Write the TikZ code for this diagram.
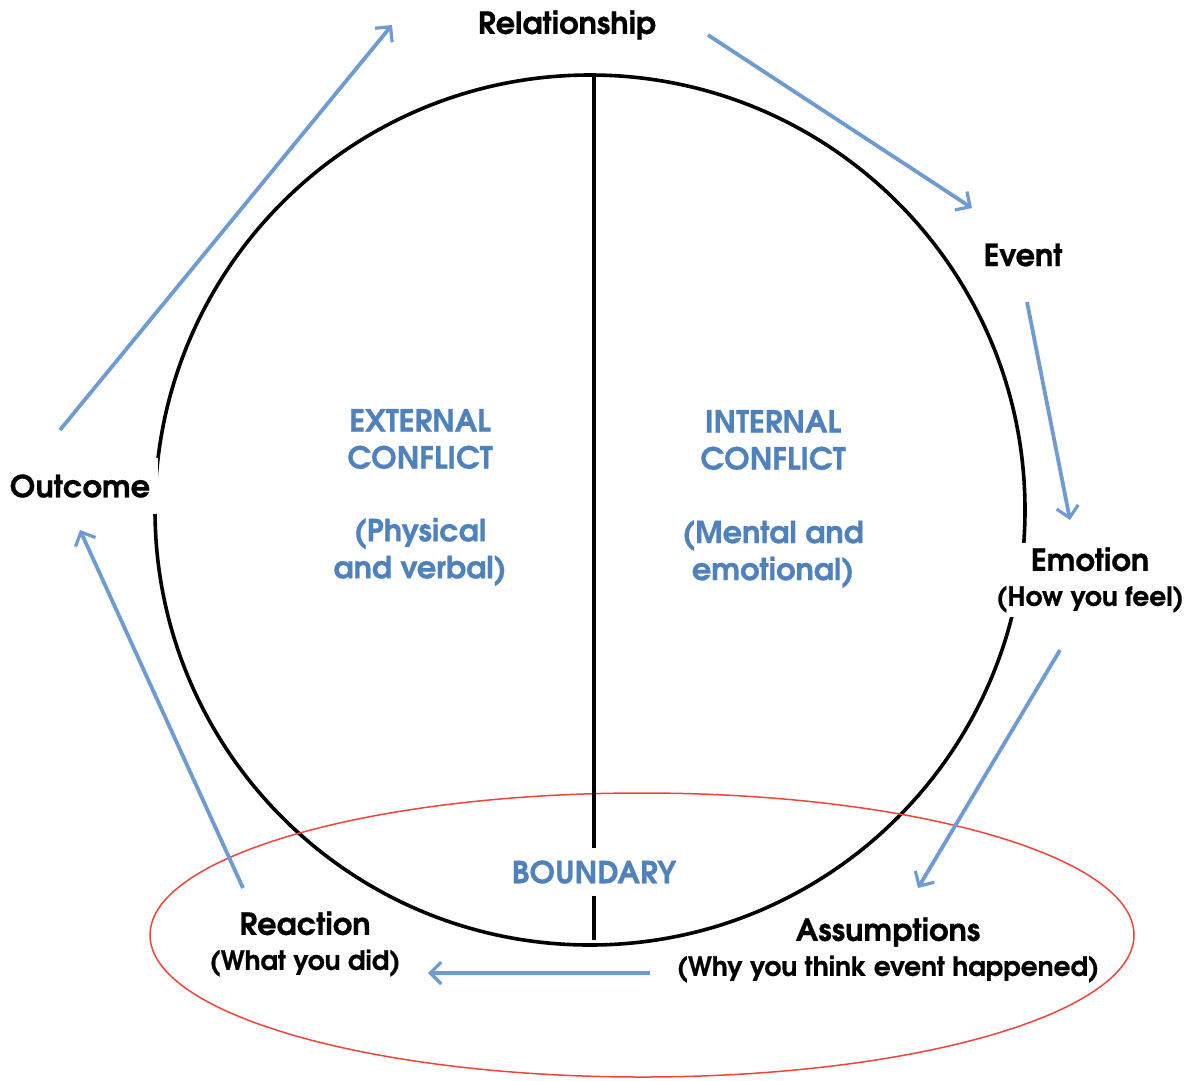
\documentclass[tikz,border=0pt]{standalone}
\usepackage{fontspec}
\setmainfont{texgyreadventor-bold.otf}[FakeBold=0.6]
\usetikzlibrary{arrows.meta}
\definecolor{arrowblue}{HTML}{6E9BD2}
\definecolor{textblue}{HTML}{4F81BD}
\definecolor{ellred}{HTML}{F0443A}
\tikzset{
  flow/.style={draw=arrowblue, line width=3.8pt, -{Straight Barb[length=11pt,width=22pt,line width=3.2pt]}},
  lab/.style={font=\fontsize{30.5}{35}\selectfont, align=center, inner sep=3pt},
  zone/.style={font=\fontsize{30.5}{37}\selectfont, text=textblue, align=center},
}
\newcommand{\subsize}{\fontsize{26.5}{35}\selectfont}
\begin{document}
\begin{tikzpicture}[x=1pt,y=-1pt]
\useasboundingbox (0,0) rectangle (1190,1080);
% circle and divider
\draw[line width=3.6pt] (590,510) circle (435);
\draw[ellred, line width=1.5pt] (642,935) ellipse (492 and 142);
\draw[line width=3.2pt] (594,75) -- (594,940);
% labels
\node[lab] (rel) at (567,25) {Relationship};
\node[lab] (event) at (1023,255) {Event};
\node[lab, fill=white, inner sep=4pt] (emo) at (1090,580) {Emotion\\{\subsize (How you feel)}};
\node[lab] (ass) at (888,950) {Assumptions\\{\subsize (Why you think event happened)}};
\node[lab] (rea) at (305,944) {Reaction\\{\subsize (What you did)}};
\node[lab, fill=white, inner ysep=16pt, inner xsep=8pt] (out) at (80,486) {Outcome};
\node[zone, fill=white, inner ysep=12pt] (bnd) at (594,872) {BOUNDARY};
\node[zone] (ext) at (420,439) {EXTERNAL\\CONFLICT};
\node[zone] (extsub) at (420,552) {(Physical\\and verbal)};
\node[zone] (int) at (773,440) {INTERNAL\\CONFLICT};
\node[zone] (intsub) at (773,554) {(Mental and\\emotional)};
% arrow end points
\coordinate (a1s) at (60,430);   \coordinate (a1e) at (392,25);
\coordinate (a2s) at (708,35);   \coordinate (a2e) at (972,208);
\coordinate (a3s) at (1027,302); \coordinate (a3e) at (1070,520);
\coordinate (a4s) at (1060,650); \coordinate (a4e) at (918,888);
\coordinate (a5s) at (650,973);  \coordinate (a5e) at (428,973);
\coordinate (a6s) at (243,888);  \coordinate (a6e) at (80,530);
\draw[flow] (a1s) -- (a1e);
\draw[flow] (a2s) -- (a2e);
\draw[flow] (a3s) -- (a3e);
\draw[flow] (a4s) -- (a4e);
\draw[flow] (a5s) -- (a5e);
\draw[flow] (a6s) -- (a6e);
\end{tikzpicture}
\end{document}
